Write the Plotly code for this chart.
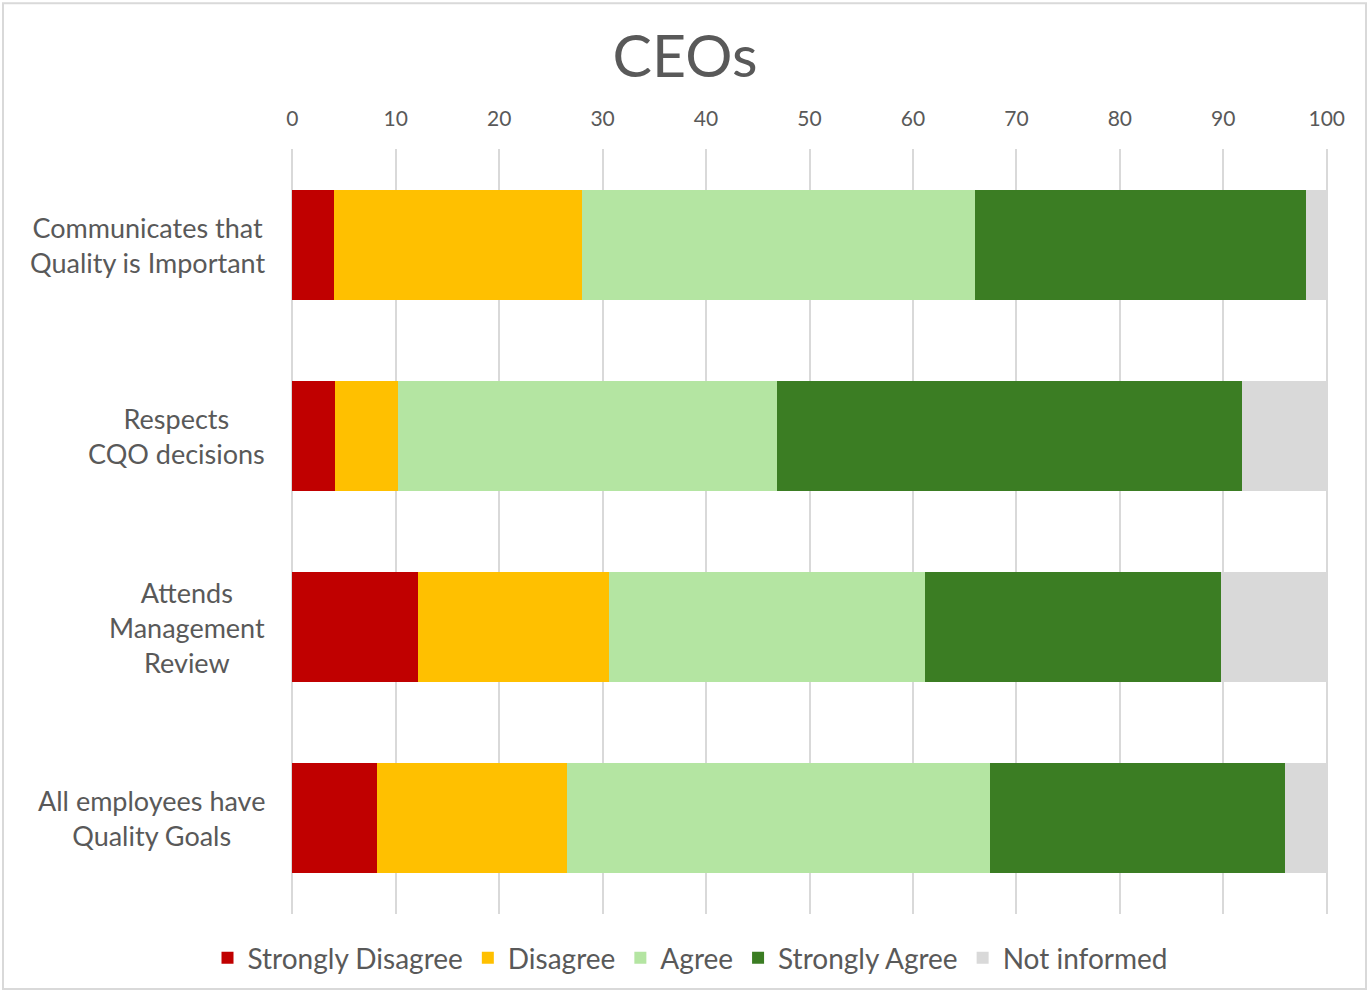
import plotly.graph_objects as go

categories = [
    "Communicates that<br>Quality is Important",
    "Respects<br>CQO decisions",
    "Attends<br>Management<br>Review",
    "All employees have<br>Quality Goals",
]
strongly_disagree = [4.0, 4.1, 12.2, 8.2]
disagree = [24.0, 6.1, 18.4, 18.4]
agree = [38.0, 36.7, 30.6, 40.8]
strongly_agree = [32.0, 44.9, 28.6, 28.6]
not_informed = [2.0, 8.2, 10.2, 4.1]
x_ticks = list(range(0, 101, 10))

series = [
    ("Strongly Disagree", strongly_disagree, "#C00000"),
    ("Disagree", disagree, "#FFC000"),
    ("Agree", agree, "#B4E5A2"),
    ("Strongly Agree", strongly_agree, "#3B7D23"),
    ("Not informed", not_informed, "#D9D9D9"),
]

FONT = "Lato"
GREY = "#595959"

fig = go.Figure()
for name, vals, color in series:
    fig.add_trace(go.Bar(
        y=categories, x=vals, name=name, orientation="h",
        marker=dict(color=color, line=dict(width=0)),
    ))

W, H = 1370, 994
L, R, T, B = 291, 42, 149, 79
pw, ph = W - L - R, H - T - B

def px(xp):
    return (xp - L) / pw

def py(yp):
    return (H - B - yp) / ph

# category labels, centred line by line as in the original
for cat in categories:
    fig.add_annotation(text=cat, xref="paper", yref="y", x=px(267), y=cat,
                       xanchor="right", yanchor="middle", align="center",
                       showarrow=False, font=dict(size=27, color=GREY, family=FONT))

fig.update_layout(
    width=W, height=H,
    barmode="stack", bargap=0.425,
    plot_bgcolor="white", paper_bgcolor="white",
    margin=dict(l=L, r=R, t=T, b=B),
    font=dict(family=FONT, color=GREY),
    title=dict(text="CEOs", x=0.5, xanchor="center", y=1 - 56 / H, yanchor="middle",
               font=dict(family=FONT, size=59, color=GREY)),
    xaxis=dict(side="top", range=[-0.12, 100.12], tickvals=x_ticks, showgrid=True,
               gridcolor="#D9D9D9", gridwidth=2, zeroline=False, showline=False,
               tickfont=dict(size=21, color=GREY), ticks="", ticklabelstandoff=18),
    yaxis=dict(categoryorder="array", categoryarray=categories, autorange="reversed",
               showgrid=False, zeroline=False, showline=False, ticks="",
               showticklabels=False),
    legend=dict(orientation="h", x=px(690), xanchor="center", y=py(958), yanchor="middle",
                font=dict(size=28, color=GREY), traceorder="normal",
                itemwidth=30, tracegroupgap=0),
    showlegend=True,
    shapes=[dict(type="rect", xref="paper", yref="paper",
                 x0=px(3), x1=px(1366), y0=py(990), y1=py(3),
                 line=dict(color="#D9D9D9", width=2), fillcolor="rgba(0,0,0,0)")],
)

fig.write_html("out.html", config={"displayModeBar": False},
               post_script="document.body.style.margin='0';document.body.style.padding='0';")
